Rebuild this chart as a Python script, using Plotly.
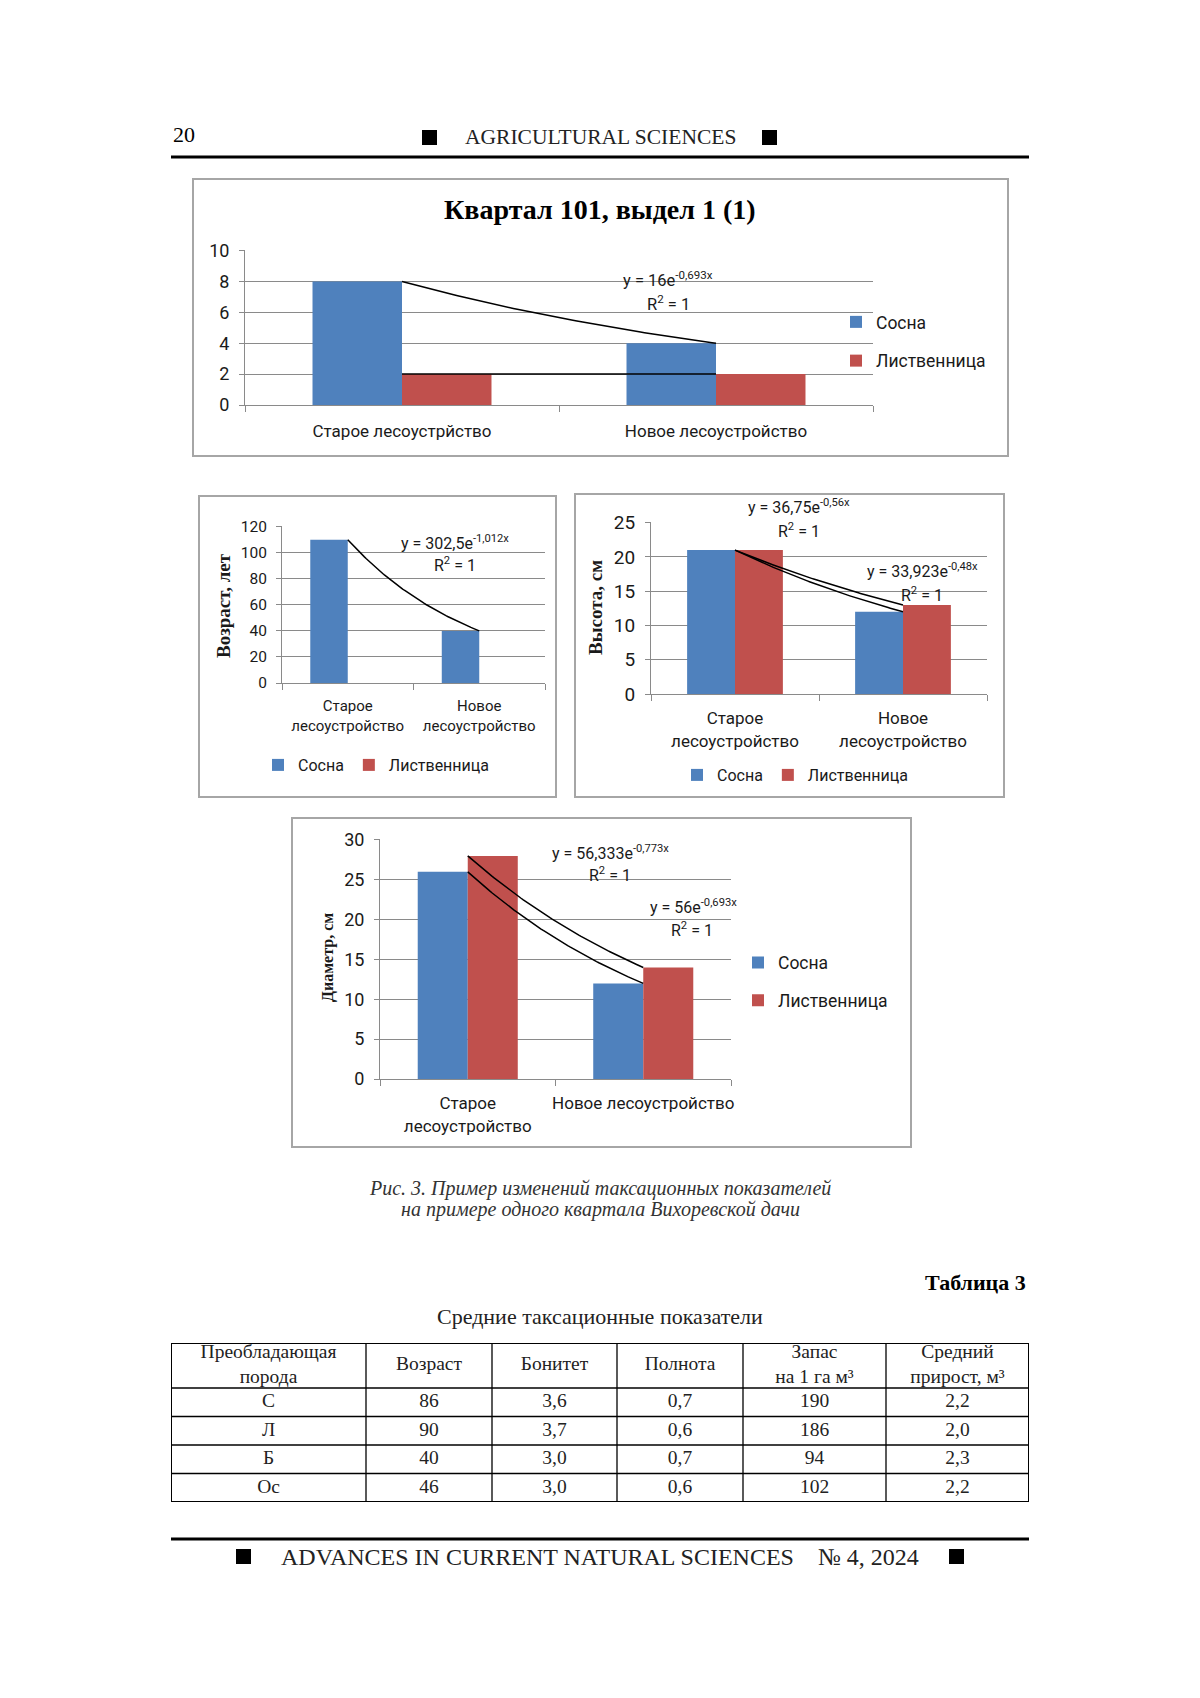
import numpy as np
import plotly.graph_objects as go

# ---------------- data ----------------
series_names = ["Сосна", "Лиственница"]

c1_title = "Квартал 101, выдел 1 (1)"
c1_categories = ["Старое лесоустрйство", "Новое лесоустройство"]
c1_sosna = [8, 4]
c1_listv = [2, 2]

c2_ylabel = "Возраст, лет"
c2_categories = ["Старое<br>лесоустройство", "Новое<br>лесоустройство"]
c2_sosna = [110, 40]
c2_listv = [None, None]

c3_ylabel = "Высота, см"
c3_categories = ["Старое<br>лесоустройство", "Новое<br>лесоустройство"]
c3_sosna = [21, 12]
c3_listv = [21, 13]

c4_ylabel = "Диаметр, см"
c4_categories = ["Старое<br>лесоустройство", "Новое лесоустройство"]
c4_sosna = [26, 12]
c4_listv = [28, 14]

tbl_header = ["Преобладающая<br>порода", "Возраст", "Бонитет", "Полнота",
              "Запас<br>на 1 га м³", "Средний<br>прирост, м³"]
tbl_species = ["С", "Л", "Б", "Ос"]
tbl_age = [86, 90, 40, 46]
tbl_bonitet = [3.6, 3.7, 3.0, 3.0]
tbl_polnota = [0.7, 0.6, 0.7, 0.6]
tbl_zapas = [190, 186, 94, 102]
tbl_prirost = [2.2, 2.0, 2.3, 2.2]

# ---------------- style ----------------
W, H = 1200, 1698
SANS = "Roboto"
SERIF = "Liberation Serif"
COLORS = ["#4F81BD", "#C0504D"]
AX = "#8a8a8a"
GRID = "#8a8a8a"
TXT = "#1a1a1a"
BOX = "#a6a6a6"

TBL_COLW = [195, 126, 125, 126, 143, 143]   # pixel widths of columns
TBL_ROWH = [45, 28.5, 28.5, 28.5, 28.5]     # pixel heights of rows


def px(x):
    return x / W


def py(y):
    return 1 - y / H


def fit_exp(vals):
    x = np.arange(1, len(vals) + 1, dtype=float)
    ly = np.log(np.asarray(vals, dtype=float))
    b, ln_a = np.polyfit(x, ly, 1)
    pred = ln_a + b * x
    ss_res = np.sum((ly - pred) ** 2)
    ss_tot = np.sum((ly - ly.mean()) ** 2)
    r2 = 1.0 if ss_tot == 0 else 1 - ss_res / ss_tot
    return float(np.exp(ln_a)), float(b), float(r2)


def fmt_a(a):
    return f"{a:.5g}".replace(".", ",")


def fmt_b(b):
    s = f"{b:.3f}".rstrip("0").rstrip(".")
    return s.replace(".", ",")


def dec(v):
    return f"{v:.1f}".replace(".", ",")


def note(x, y, text, size, family=SANS, color=TXT, xanchor="center", yanchor="middle", **kw):
    d = dict(x=px(x), y=py(y), xref="paper", yref="paper", showarrow=False,
             xanchor=xanchor, yanchor=yanchor, text=text,
             font=dict(family=family, size=size, color=color))
    d.update(kw)
    return d


charts = [
    dict(data=(c1_sosna, c1_listv), cats=c1_categories,
         xdom=(245, 873), ydom=(250, 405), yrange=(0, 10), dtick=2,
         tickfs=18, catfs=17, cat_standoff=11, ylab=None,
         leg=dict(orientation="v", x=836, y=341.5, xanchor="left", yanchor="middle",
                  size=17.5, gap=13),
         labels=[((668, 279), (668, 303)), None], eqfs=16.5),
    dict(data=(c2_sosna, c2_listv), cats=c2_categories,
         xdom=(282, 545), ydom=(526, 683), yrange=(0, 120), dtick=20,
         tickfs=15.5, catfs=15, cat_standoff=9,
         ylab=(c2_ylabel, 223, 606, 19),
         leg=dict(orientation="h", x=376, y=765, xanchor="center", yanchor="middle",
                  size=16, gap=0),
         labels=[((455, 542), (455, 565)), None], eqfs=16),
    dict(data=(c3_sosna, c3_listv), cats=c3_categories,
         xdom=(651, 987), ydom=(522, 694), yrange=(0, 25), dtick=5,
         tickfs=19, catfs=17, cat_standoff=9,
         ylab=(c3_ylabel, 595, 608, 19),
         leg=dict(orientation="h", x=795, y=775, xanchor="center", yanchor="middle",
                  size=16, gap=0),
         labels=[((799, 506), (799, 530)), ((922, 571), (922, 594))], eqfs=16),
    dict(data=(c4_sosna, c4_listv), cats=c4_categories,
         xdom=(380, 731), ydom=(839, 1079), yrange=(0, 30), dtick=5,
         tickfs=18, catfs=17, cat_standoff=9,
         ylab=(c4_ylabel, 328, 958, 16),
         leg=dict(orientation="v", x=738, y=981.5, xanchor="left", yanchor="middle",
                  size=17.5, gap=12),
         labels=[((610, 852), (610, 874)), ((693, 906), (692, 929))], eqfs=16),
]

fig = go.Figure()
annotations = []
shapes = []
layout_axes = {}

for n, ch in enumerate(charts, start=1):
    xa = "x" if n == 1 else f"x{n}"
    ya = "y" if n == 1 else f"y{n}"
    lg = "legend" if n == 1 else f"legend{n}"
    vertical = ch["leg"]["orientation"] == "v"
    xs = list(range(1, len(ch["cats"]) + 1))

    for i, (name, vals) in enumerate(zip(series_names, ch["data"])):
        fig.add_trace(go.Bar(
            x=xs, y=vals, name=name, xaxis=xa, yaxis=ya, legend=lg,
            offsetgroup=str(i), marker=dict(color=COLORS[i], line=dict(width=0)),
            legendgroup=(f"c{n}s{i}" if vertical else None), hoverinfo="y"))

    for i, vals in enumerate(ch["data"]):
        if any(v is None for v in vals):
            continue
        a, b, r2 = fit_exp(vals)
        xx = np.linspace(xs[0], xs[-1], 80)
        fig.add_trace(go.Scatter(
            x=xx, y=a * np.exp(b * xx), mode="lines", xaxis=xa, yaxis=ya,
            line=dict(color="black", width=1.5), showlegend=False, hoverinfo="skip"))
        lab = ch["labels"][i]
        if lab:
            (ex, ey), (rx, ry) = lab
            annotations.append(note(ex, ey, f"y = {fmt_a(a)}e<sup>{fmt_b(b)}x</sup>", ch["eqfs"]))
            annotations.append(note(rx, ry, f"R<sup>2</sup> = {r2:.4g}", ch["eqfs"]))

    x0, x1 = ch["xdom"]
    y0, y1 = ch["ydom"]
    bounds = [x - 0.5 for x in xs] + [xs[-1] + 0.5]
    lo, hi = ch["yrange"]
    layout_axes["xaxis" if n == 1 else f"xaxis{n}"] = dict(
        domain=[px(x0), px(x1)], anchor=ya, range=[0.5, len(xs) + 0.5],
        tickmode="array", tickvals=xs, ticktext=ch["cats"], ticks="",
        showline=True, linecolor=AX, linewidth=1, showgrid=False, zeroline=False,
        tickfont=dict(family=SANS, size=ch["catfs"], color=TXT),
        ticklabelstandoff=ch["cat_standoff"],
        minor=dict(tickmode="array", tickvals=bounds, ticks="outside", ticklen=6,
                   tickcolor=AX, tickwidth=1, showgrid=False),
        fixedrange=True)
    layout_axes["yaxis" if n == 1 else f"yaxis{n}"] = dict(
        domain=[py(y1), py(y0)], anchor=xa, range=[lo, hi + (hi - lo) * 0.004],
        tick0=0, dtick=ch["dtick"], ticks="outside", ticklen=5, tickcolor=AX,
        showline=True, linecolor=AX, linewidth=1, showgrid=True, gridcolor=GRID,
        gridwidth=1, zeroline=False, ticklabelstandoff=6,
        tickfont=dict(family=SANS, size=ch["tickfs"], color=TXT), fixedrange=True)

    L = ch["leg"]
    layout_axes[lg] = dict(
        orientation=L["orientation"], x=px(L["x"]), y=py(L["y"]),
        xanchor=L["xanchor"], yanchor=L["yanchor"], bgcolor="rgba(0,0,0,0)",
        font=dict(family=SANS, size=L["size"], color=TXT),
        tracegroupgap=L["gap"], traceorder=("grouped" if vertical else "normal"))

    if ch["ylab"]:
        t, lx, ly, fs = ch["ylab"]
        annotations.append(note(lx, ly, f"<b>{t}</b>", fs, family=SERIF, textangle=-90))

# chart 1 title
annotations.append(note(600, 210, f"<b>{c1_title}</b>", 28, family=SERIF, color="black"))

# chart frames
for (bx0, by0, bx1, by1) in [(193, 179, 1008, 456), (199, 496, 556, 797),
                             (575, 494, 1004, 797), (292, 818, 911, 1147)]:
    shapes.append(dict(type="rect", xref="paper", yref="paper",
                       x0=px(bx0), x1=px(bx1), y0=py(by1), y1=py(by0),
                       line=dict(color=BOX, width=2), fillcolor="rgba(0,0,0,0)"))

# page header
annotations.append(note(171, 134, "20", 22, family=SERIF, color="black", xanchor="left"))
annotations.append(note(600, 137, "AGRICULTURAL SCIENCES", 21.5, family=SERIF, color="#222"))
for sx in (422, 762):
    shapes.append(dict(type="rect", xref="paper", yref="paper",
                       x0=px(sx), x1=px(sx + 15), y0=py(145), y1=py(130),
                       line=dict(width=0), fillcolor="black"))
shapes.append(dict(type="line", xref="paper", yref="paper", x0=px(171), x1=px(1029),
                   y0=py(157), y1=py(157), line=dict(color="black", width=3)))

# caption
annotations.append(note(600, 1188, "<i>Рис. 3. Пример изменений таксационных показателей</i>",
                        20, family=SERIF, color="#333"))
annotations.append(note(600, 1209, "<i>на примере одного квартала Вихоревской дачи</i>",
                        20, family=SERIF, color="#333"))

# table heading
annotations.append(note(1028, 1282, "<b>Таблица 3</b>", 22, family=SERIF, color="black",
                        xanchor="right"))
annotations.append(note(600, 1316, "Средние таксационные показатели", 22, family=SERIF,
                        color="#222"))

# table drawn on its own hidden axes (x5/y5)
col_edges = np.concatenate([[0], np.cumsum(TBL_COLW)])
row_edges = np.concatenate([[0], np.cumsum(TBL_ROWH)])
col_centers = (col_edges[:-1] + col_edges[1:]) / 2
row_centers = (row_edges[:-1] + row_edges[1:]) / 2
tbl_cols = [tbl_species, [str(v) for v in tbl_age], [dec(v) for v in tbl_bonitet],
            [dec(v) for v in tbl_polnota], [str(v) for v in tbl_zapas],
            [dec(v) for v in tbl_prirost]]
cell_x, cell_y, cell_t = [], [], []
for j, col in enumerate(tbl_cols):
    cell_x.append(col_centers[j]); cell_y.append(row_centers[0]); cell_t.append(tbl_header[j])
    for r, v in enumerate(col):
        cell_x.append(col_centers[j]); cell_y.append(row_centers[r + 1]); cell_t.append(v)
fig.add_trace(go.Scatter(x=cell_x, y=cell_y, text=cell_t, mode="text",
                         textposition="middle center", xaxis="x5", yaxis="y5",
                         textfont=dict(family=SERIF, size=19.5, color="#222"),
                         showlegend=False, hoverinfo="skip"))
layout_axes["xaxis5"] = dict(domain=[px(171), px(1029)], anchor="y5",
                             range=[0, col_edges[-1]], visible=False, fixedrange=True)
layout_axes["yaxis5"] = dict(domain=[py(1343 + row_edges[-1]), py(1343)], anchor="x5",
                             range=[row_edges[-1], 0], visible=False, fixedrange=True)
for ce in col_edges[1:-1]:
    shapes.append(dict(type="line", xref="x5", yref="y5", x0=ce, x1=ce, y0=0,
                       y1=row_edges[-1], line=dict(color="black", width=1.3)))
for re_ in row_edges[1:-1]:
    shapes.append(dict(type="line", xref="x5", yref="y5", x0=0, x1=col_edges[-1],
                       y0=re_, y1=re_, line=dict(color="black", width=1.3)))
shapes.append(dict(type="rect", xref="x5", yref="y5", x0=0, x1=col_edges[-1],
                   y0=0, y1=row_edges[-1], line=dict(color="black", width=2),
                   fillcolor="rgba(0,0,0,0)"))

# page footer
shapes.append(dict(type="line", xref="paper", yref="paper", x0=px(171), x1=px(1029),
                   y0=py(1539), y1=py(1539), line=dict(color="black", width=3)))
for sx in (236, 949):
    shapes.append(dict(type="rect", xref="paper", yref="paper",
                       x0=px(sx), x1=px(sx + 15), y0=py(1564), y1=py(1549),
                       line=dict(width=0), fillcolor="black"))
annotations.append(note(600, 1557, "ADVANCES IN CURRENT NATURAL SCIENCES    № 4, 2024",
                        24, family=SERIF, color="#222"))

fig.update_layout(
    width=W, height=H, autosize=False,
    margin=dict(l=0, r=0, t=0, b=0, pad=0, autoexpand=False),
    paper_bgcolor="white", plot_bgcolor="rgba(0,0,0,0)",
    barmode="group", bargap=0.43, bargroupgap=0,
    annotations=annotations, shapes=shapes,
    **layout_axes)

fig.write_html("out.html", post_script="document.body.style.margin='0';",
               config={"displayModeBar": False})
